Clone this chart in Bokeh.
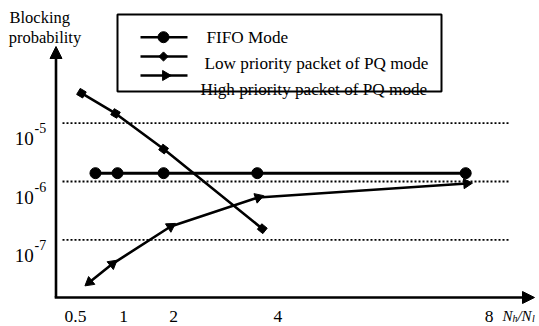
import numpy as np
from bokeh.plotting import figure
from bokeh.models import Range1d, Arrow, NormalHead
from bokeh.core.properties import value
from bokeh.embed import file_html
from bokeh.resources import INLINE

# ---------------- data ----------------
x_ticks = [0.5, 1, 2, 4, 8]
x_tick_labels = ["0.5", "1", "2", "4", "8"]
y_ticks = [1e-5, 1e-6, 1e-7]
y_tick_exps = ["-5", "-6", "-7"]

fifo_x = [0.60, 1.04, 1.96, 3.83, 7.99]
fifo_y = [1.39e-6, 1.39e-6, 1.39e-6, 1.39e-6, 1.39e-6]

low_x = [0.32, 1.00, 1.96, 3.93]
low_y = [3.27e-5, 1.47e-5, 3.6e-6, 1.55e-7]

high_x = [0.48, 0.94, 2.10, 3.85, 8.01]
high_y = [1.87e-8, 3.87e-8, 1.69e-7, 5.32e-7, 9.24e-7]

legend_labels = ["FIFO Mode", "Low priority packet of PQ mode",
                 "High priority packet of PQ mode"]
y_title = ["Blocking", "probability"]

# ---------------- layout / style ----------------
W, H = 539, 326
PX0, PXS = 64.9, 50.1          # canvas px of ratio 0, px per ratio unit
DEC, Y6 = 58.3, 181.0          # px per decade, canvas px of 1e-6
x_start, x_end = -PX0 / PXS, (W - PX0) / PXS
ly_top = -6 + Y6 / DEC
ly_bot = -6 - (H - Y6) / DEC


def fx(cx):
    return (cx - PX0) / PXS


def fy(cy):
    return 10 ** (-6 - (cy - Y6) / DEC)


def scr(xs, ys):
    sx = (np.asarray(xs) - x_start) / (x_end - x_start) * W
    sy = (np.log10(np.asarray(ys)) - ly_bot) / (ly_top - ly_bot) * H
    return sx, sy


FONT = value("Liberation Serif")

p = figure(width=W, height=H, x_range=Range1d(x_start, x_end),
           y_range=Range1d(10 ** ly_bot, 10 ** ly_top), y_axis_type="log",
           output_backend="svg", toolbar_location=None,
           x_axis_location=None, y_axis_location=None, min_border=0)
p.outline_line_color = None
p.grid.visible = False
p.background_fill_color = "white"
p.border_fill_color = "white"

AX = fx(55.5)
AY = fy(297)

# dotted reference lines
p.segment(x0=[fx(62)] * 3, x1=[fx(508)] * 3, y0=y_ticks, y1=y_ticks,
          line_color="black", line_width=1.8, line_dash="2 2")

# axes with arrow heads
p.add_layout(Arrow(x_start=AX, y_start=AY, x_end=AX, y_end=fy(46),
                   line_width=2.6, line_color="black",
                   end=NormalHead(size=12, fill_color="black", line_color="black", line_width=1)))
p.add_layout(Arrow(x_start=fx(54.2), y_start=AY, x_end=fx(534), y_end=AY,
                   line_width=2.6, line_color="black",
                   end=NormalHead(size=12, fill_color="black", line_color="black", line_width=1)))

# FIFO
p.line(fifo_x, fifo_y, line_color="black", line_width=3)
p.scatter(fifo_x, fifo_y, marker="circle", size=11, fill_color="black", line_color="black")

# Low priority (squares rotated along the line)
sx, sy = scr(low_x, low_y)
ang = np.arctan2(np.diff(sy), np.diff(sx))
low_ang = list(np.concatenate([[ang[0]], ang]))
p.line(low_x, low_y, line_color="black", line_width=2.6)
p.scatter(low_x, low_y, marker="square", size=7, angle=low_ang,
          fill_color="black", line_color="black")

# High priority (arrow heads along the line)
sx, sy = scr(high_x, high_y)
ang = np.arctan2(np.diff(sy), np.diff(sx))
dirs = np.concatenate([[ang[0] + np.pi], ang])
high_ang = list(dirs - np.pi / 2)
p.line(high_x, high_y, line_color="black", line_width=2.6)
p.scatter(high_x, high_y, marker="triangle", size=10, angle=high_ang,
          fill_color="black", line_color="black")

# y tick labels 10^-n
p.text(x=[AX] * 3, y=y_ticks, text=["10"] * 3, text_font=FONT,
       text_font_size=value("19px"), text_align="right", text_baseline="alphabetic",
       x_offset=-22.2, y_offset=15.5, text_color="black")
p.text(x=[AX] * 3, y=y_ticks, text=y_tick_exps, text_font=FONT,
       text_font_size=value("14px"), text_align="left", text_baseline="alphabetic",
       x_offset=-21.5, y_offset=5, text_color="black")

# x tick labels
p.text(x=x_ticks, y=[fy(316)] * 5, text=x_tick_labels, text_font=FONT,
       text_font_size=value("17.5px"), text_align="center", text_baseline="alphabetic",
       x_offset=[-15, 8, 8, 12, 23], text_color="black")

# x axis name N_h/N_l
xn = 502
p.text(x=[fx(xn), fx(xn + 19)], y=[fy(315)] * 2, text=["N", "N"], text_font=FONT,
       text_font_style="italic", text_font_size=value("15px"), text_align="left",
       text_baseline="alphabetic", text_color="black")
p.text(x=[fx(xn + 10), fx(xn + 29.5)], y=[fy(318)] * 2, text=["h", "l"], text_font=FONT,
       text_font_style="italic", text_font_size=value("10px"), text_align="left",
       text_baseline="alphabetic", text_color="black")
p.text(x=[fx(xn + 15)], y=[fy(315)], text=["/"], text_font=FONT,
       text_font_style="italic", text_font_size=value("15px"), text_align="left",
       text_baseline="alphabetic", text_color="black")

# y title
p.text(x=[fx(9), fx(8.3)], y=[fy(16.7), fy(36.7)], text=y_title, text_font=FONT,
       text_font_size=value("16.5px"), text_align="left", text_baseline="alphabetic",
       text_color="black")

# legend (drawn by hand)
p.quad(left=[fx(117)], right=[fx(441)], top=[fy(14)], bottom=[fy(91)],
       fill_color=None, line_color="black", line_width=2)
leg_y = [fy(36.7), fy(56), fy(75)]
for yy in leg_y:
    p.line([fx(140), fx(187)], [yy, yy], line_color="black", line_width=2.6)
p.scatter([fx(163)], [leg_y[0]], marker="circle", size=11, fill_color="black", line_color="black")
p.scatter([fx(163)], [leg_y[1]], marker="square", size=6.5, angle=np.pi / 4,
          fill_color="black", line_color="black")
p.scatter([fx(165)], [leg_y[2]], marker="triangle", size=10, angle=-np.pi / 2,
          fill_color="black", line_color="black")
p.text(x=[fx(206), fx(204), fx(200)], y=[fy(37), fy(63), fy(89)], text=legend_labels,
       text_font=FONT, text_font_size=value("17.2px"), text_align="left",
       text_baseline="alphabetic", text_color="black")

open("out.html", "w").write(file_html(p, INLINE))
